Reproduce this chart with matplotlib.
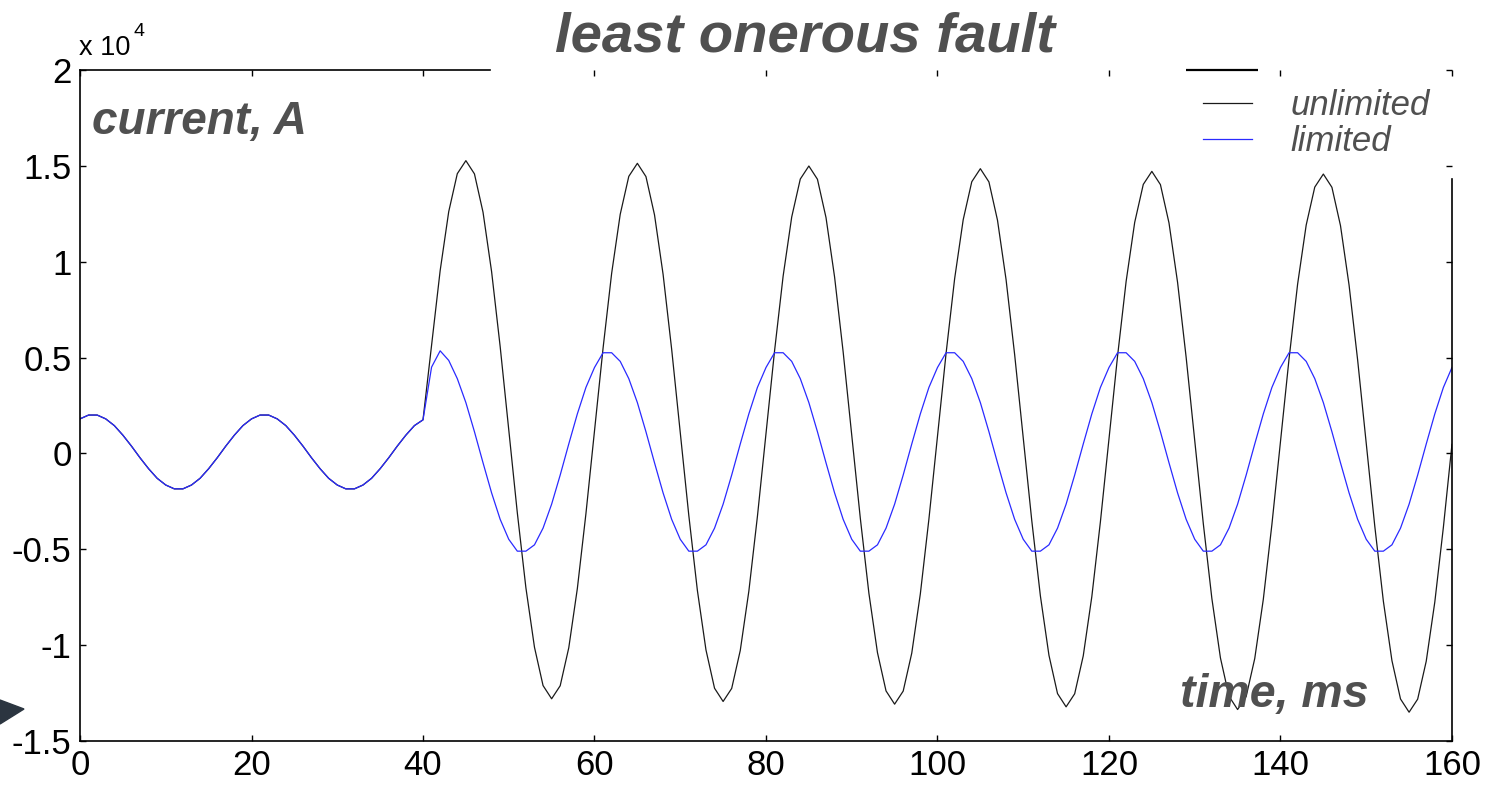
import numpy as np
import matplotlib.pyplot as plt
from matplotlib.ticker import FuncFormatter
from matplotlib.patches import Polygon

plt.rcParams['font.family'] = ['Liberation Sans', 'DejaVu Sans']

# time axis, ms (1 ms samples)
time_ms = list(range(161))

# before the fault both currents are the same (0..40 ms)
pre_fault = [1800, 2000, 2000, 1800, 1450, 950, 380, -230, -800, -1300,
             -1650, -1850, -1850, -1650, -1300, -800, -230, 380, 950, 1450,
             1800, 2000, 2000, 1800, 1450, 950, 380, -230, -800, -1300,
             -1650, -1850, -1850, -1650, -1300, -800, -230, 380, 950, 1450,
             1750]

# after the fault (41..160 ms)
unlimited_post = [
    5630, 9530, 12610, 14590, 15270, 14580, 12580, 9480, 5570, 1240,
    -3100, -7010, -10110, -12110, -12800, -12120, -10140, -7050, -3150, 1170,
    5490, 9390, 12470, 14450, 15130, 14440, 12440, 9340, 5430, 1100,
    -3240, -7150, -10250, -12250, -12940, -12260, -10280, -7190, -3290, 1030,
    5350, 9250, 12330, 14310, 14990, 14300, 12300, 9200, 5290, 960,
    -3380, -7290, -10390, -12390, -13080, -12400, -10420, -7330, -3430, 890,
    5210, 9110, 12190, 14170, 14850, 14160, 12160, 9060, 5150, 820,
    -3520, -7430, -10530, -12530, -13220, -12540, -10560, -7470, -3570, 750,
    5070, 8970, 12050, 14030, 14710, 14020, 12020, 8920, 5010, 680,
    -3660, -7570, -10670, -12670, -13360, -12680, -10700, -7610, -3710, 610,
    4930, 8830, 11910, 13890, 14570, 13880, 11880, 8780, 4870, 540,
    -3800, -7710, -10810, -12810, -13500, -12820, -10840, -7750, -3850, 470]

limited_post = [
    4500, 5350, 4850, 3900, 2650, 1130, -490, -2060, -3440, -4480,
    -5100, -5100, -4770, -3900, -2650, -1130, 490, 2060, 3440, 4480,
    5250, 5250, 4800, 3900, 2650, 1130, -490, -2060, -3440, -4480,
    -5100, -5100, -4770, -3900, -2650, -1130, 490, 2060, 3440, 4480,
    5250, 5250, 4800, 3900, 2650, 1130, -490, -2060, -3440, -4480,
    -5100, -5100, -4770, -3900, -2650, -1130, 490, 2060, 3440, 4480,
    5250, 5250, 4800, 3900, 2650, 1130, -490, -2060, -3440, -4480,
    -5100, -5100, -4770, -3900, -2650, -1130, 490, 2060, 3440, 4480,
    5250, 5250, 4800, 3900, 2650, 1130, -490, -2060, -3440, -4480,
    -5100, -5100, -4770, -3900, -2650, -1130, 490, 2060, 3440, 4480,
    5250, 5250, 4800, 3900, 2650, 1130, -490, -2060, -3440, -4480,
    -5100, -5100, -4770, -3900, -2650, -1130, 490, 2060, 3440, 4480]

unlimited = pre_fault + unlimited_post
limited = pre_fault + limited_post

x_ticks = [0, 20, 40, 60, 80, 100, 120, 140, 160]
y_ticks = [-15000, -10000, -5000, 0, 5000, 10000, 15000, 20000]

gray = '#505050'

fig = plt.figure(figsize=(15.04, 7.87), dpi=100)
ax = fig.add_axes([0.0532, 0.0585, 0.9122, 0.8526])

ax.plot(time_ms, unlimited, color='#1a1a1a', lw=0.9, label='unlimited')
ax.plot(time_ms, limited, color='#2a2aff', lw=0.9, label='limited')

ax.set_xlim(0, 160)
ax.set_ylim(-15000, 20000)
ax.set_xticks(x_ticks)
ax.set_yticks(y_ticks)
ax.yaxis.set_major_formatter(FuncFormatter(lambda v, p: f'{v / 1e4:g}'))
ax.tick_params(direction='in', length=4, width=1, labelsize=25,
               top=True, right=True)
ax.tick_params(axis='x', pad=6)
ax.tick_params(axis='y', pad=6)

# frame partly hidden behind title and legend boxes
ax.spines['top'].set_bounds(0, 47.8)
ax.spines['right'].set_bounds(-15000, 14300)
ax.hlines(20000, 129, 137.4, color='k', lw=1.6, clip_on=False)
for s in ax.spines.values():
    s.set_linewidth(1.2)

ax.legend(loc='upper left', bbox_to_anchor=(1186 / 1504, 1 - 72 / 787),
          bbox_transform=fig.transFigure, frameon=False,
          prop={'style': 'italic', 'size': 25}, labelcolor=gray,
          handlelength=1.4, handletextpad=1.1, borderpad=0,
          labelspacing=0.08)

fig.text(805 / 1504, 1 - 52 / 787, 'least onerous fault', ha='center',
         va='baseline', fontsize=40.5, fontweight='bold', style='italic',
         color=gray)
fig.text(92 / 1504, 1 - 134 / 787, 'current, A', ha='left', va='baseline',
         fontsize=33, fontweight='bold', style='italic', color=gray)
fig.text(1180 / 1504, 1 - 707 / 787, 'time, ms', ha='left', va='baseline',
         fontsize=33.5, fontweight='bold', style='italic', color=gray)
fig.text(79 / 1504, 1 - 55 / 787, 'x 10', ha='left', va='baseline',
         fontsize=19.5)
fig.text(134 / 1504, 1 - 36 / 787, '4', ha='left', va='baseline',
         fontsize=14)

# slide arrow bullet at the lower left
fig.add_artist(Polygon([(0, 1 - 700 / 787), (24 / 1504, 1 - 709 / 787),
                        (0, 1 - 724 / 787)], closed=True,
                       transform=fig.transFigure, color='#2b3540'))

fig.savefig('out.png', dpi=100)
